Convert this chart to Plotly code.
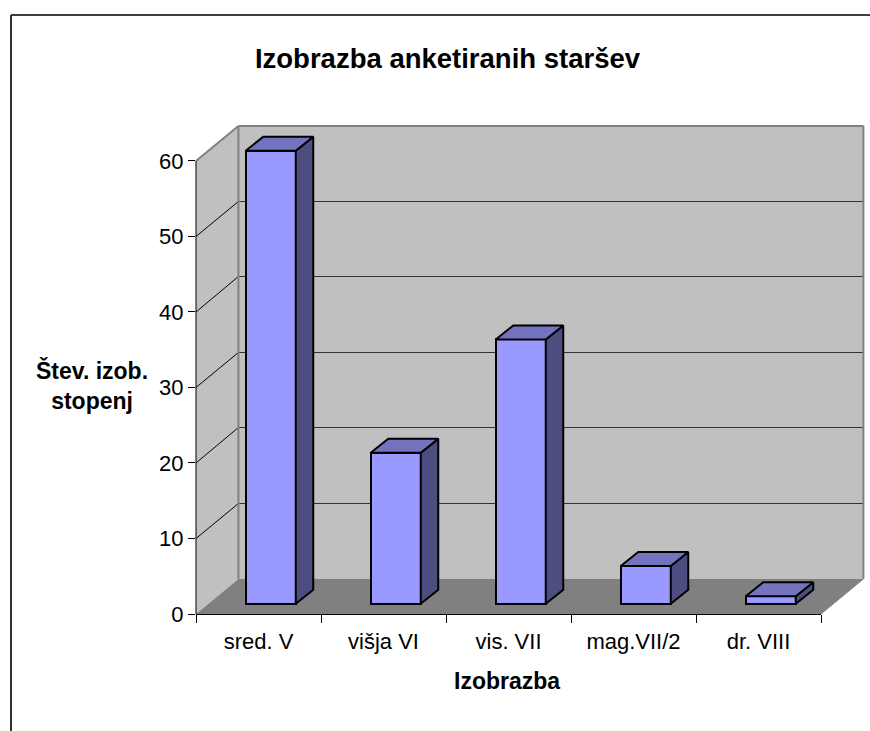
import math
import plotly.graph_objects as go

categories = ["sred. V", "višja VI", "vis. VII", "mag.VII/2", "dr. VIII"]
values = [60, 20, 35, 5, 1]
y_ticks = [0, 10, 20, 30, 40, 50, 60]

# 3-D look: depths in axis units (category widths / value units)
WALL_DX, WALL_DY = 0.3392, 4.64
BAR_OFF_DX, BAR_OFF_DY = 0.098, 1.36
BAR_DX, BAR_DY = 0.14, 1.85
BAR_W = 0.4
Y_MAX = 64.5
PLOT_TOP, PLOT_H = 127, 487

FACE, SIDE, TOP = "#9999FF", "#4D4D80", "#7373BF"


def px(x):
    return (x + 0.5) / 5


def py(y):
    return y / Y_MAX


def snap(y):
    pix = PLOT_TOP + PLOT_H * (1 - y / Y_MAX)
    return (1 - (math.floor(pix) + 0.5 - PLOT_TOP) / PLOT_H) * Y_MAX


def poly(points, fill):
    path = "M " + " L ".join(f"{px(x)},{py(y)}" for x, y in points) + " Z"
    return dict(type="path", xref="paper", yref="paper", path=path, fillcolor=fill,
                line=dict(color=fill, width=0), layer="below")


def seg(x0, y0, x1, y1, color, width):
    return dict(type="line", xref="paper", yref="paper", x0=px(x0), y0=py(y0), x1=px(x1), y1=py(y1),
                line=dict(color=color, width=width), layer="below")


xl, xr = -0.5, 4.5
ytop = 60
shapes = [
    poly([(xl + WALL_DX, WALL_DY), (xr + WALL_DX, WALL_DY), (xr + WALL_DX, ytop + WALL_DY), (xl + WALL_DX, ytop + WALL_DY)], "#C0C0C0"),
    poly([(xl, 0), (xl + WALL_DX, WALL_DY), (xl + WALL_DX, ytop + WALL_DY), (xl, ytop)], "#C0C0C0"),
    poly([(xl, 0), (xr, 0), (xr + WALL_DX, WALL_DY), (xl + WALL_DX, WALL_DY)], "#808080"),
]
for t in y_ticks[1:-1]:
    grid_y = snap(t + WALL_DY)
    shapes.append(seg(xl, t, xl + WALL_DX, grid_y, "#000000", 1))
    shapes.append(seg(xl + WALL_DX, grid_y, xr + WALL_DX, grid_y, "#333333", 1))
shapes += [
    seg(xl + WALL_DX, WALL_DY, xl + WALL_DX, ytop + WALL_DY, "#808080", 2),
    seg(xl, ytop, xl + WALL_DX, ytop + WALL_DY, "#808080", 2),
    seg(xl + WALL_DX, ytop + WALL_DY, xr + WALL_DX, ytop + WALL_DY, "#808080", 2),
    seg(xr + WALL_DX, ytop + WALL_DY, xr + WALL_DX, WALL_DY, "#808080", 2),
    seg(xr, 0, xr + WALL_DX, WALL_DY, "#808080", 1),
    seg(xl, 0, xl, ytop, "#000000", 1),
]
# outer chart border (left and top edges)
shapes += [
    dict(type="line", xref="paper", yref="paper", x0=-0.296, x1=1.08, y0=1.23, y1=1.23,
         line=dict(color="#404040", width=2)),
    dict(type="line", xref="paper", yref="paper", x0=-0.296, x1=-0.296, y0=1.23, y1=-0.24,
         line=dict(color="#303030", width=2)),
]

xs = list(range(len(categories)))
fig = go.Figure()
fig.add_trace(go.Bar(x=[i + BAR_OFF_DX for i in xs], y=values, base=[BAR_OFF_DY] * len(values),
                     width=BAR_W, marker=dict(color=FACE, line=dict(color="#000000", width=2)),
                     cliponaxis=False, showlegend=False))
for i, v in zip(xs, values):
    x0 = i + BAR_OFF_DX - BAR_W / 2
    x1 = x0 + BAR_W
    y0 = BAR_OFF_DY
    y1 = y0 + v
    side_x = [x1, x1 + BAR_DX, x1 + BAR_DX, x1, x1]
    side_y = [y0, y0 + BAR_DY, y1 + BAR_DY, y1, y0]
    top_x = [x0, x0 + BAR_DX, x1 + BAR_DX, x1, x0]
    top_y = [y1, y1 + BAR_DY, y1 + BAR_DY, y1, y1]
    for fx, fy, c in ((side_x, side_y, SIDE), (top_x, top_y, TOP)):
        fig.add_trace(go.Scatter(x=fx, y=fy, mode="lines", fill="toself", fillcolor=c,
                                 line=dict(color="#000000", width=2), cliponaxis=False,
                                 showlegend=False, hoverinfo="skip"))

font = "Liberation Sans, Arial, sans-serif"
fig.update_layout(
    width=870, height=731, autosize=False,
    margin=dict(l=196, r=49, t=PLOT_TOP, b=117),
    paper_bgcolor="#FFFFFF", plot_bgcolor="rgba(0,0,0,0)",
    font=dict(family=font, color="#000000", size=22),
    showlegend=False, bargap=0, shapes=shapes,
    title=dict(text="<b>Izobrazba anketiranih staršev</b>", x=447.5 / 870, xanchor="center",
               y=1 - 58 / 731, yanchor="middle", font=dict(size=27.5, family=font, color="#000000")),
    xaxis=dict(range=[xl, xr], tickmode="array", tickvals=xs, ticktext=categories, ticks="",
               showgrid=False, zeroline=False, showline=True, linecolor="#000000", linewidth=1,
               tickfont=dict(size=22), ticklabelstandoff=8,
               minor=dict(tickmode="array", tickvals=[k - 0.5 for k in range(6)], ticks="outside",
                          ticklen=8, tickcolor="#000000", tickwidth=1, showgrid=False)),
    yaxis=dict(range=[0, Y_MAX], tickmode="array", tickvals=y_ticks, ticks="outside", ticklen=7,
               tickcolor="#000000", showgrid=False, zeroline=False, showline=False,
               tickfont=dict(size=22)),
    annotations=[
        dict(text="<b>Izobrazba</b>", xref="paper", yref="paper", x=(507 - 196) / 625, y=(614 - 681) / PLOT_H,
             showarrow=False, font=dict(size=23, family=font), xanchor="center", yanchor="middle"),
        dict(text="<b>Štev. izob.<br>stopenj</b>", xref="paper", yref="paper", x=(92 - 196) / 625,
             y=(614 - 385) / PLOT_H, showarrow=False, font=dict(size=23, family=font),
             xanchor="center", yanchor="middle", align="center"),
    ],
)
fig.write_html("out.html", config={"displayModeBar": False},
               post_script="document.body.style.margin='0';")
